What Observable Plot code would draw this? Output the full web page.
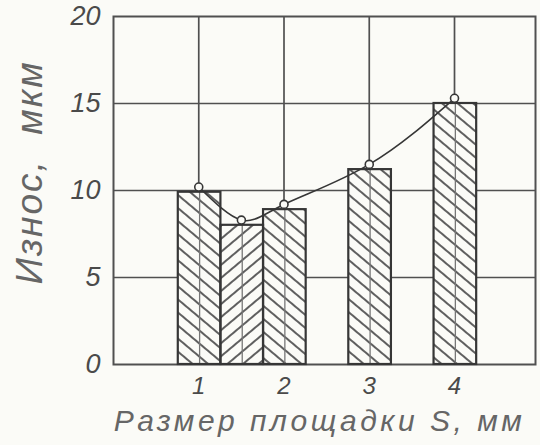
<!DOCTYPE html>
<html>
<head>
<meta charset="utf-8">
<script src="https://cdn.jsdelivr.net/npm/d3@7"></script>
<script src="https://cdn.jsdelivr.net/npm/@observablehq/plot@0.6"></script>
<style>
  html, body { margin: 0; padding: 0; background: #fbfbf7; }
  svg { display: block; overflow: visible; }
</style>
</head>
<body>
<script>
// ---- data ----
const sizes = [1, 1.5, 2, 3, 4];                 // размер площадки S, мм
const barWear = [9.9, 8.0, 8.9, 11.2, 15.0];     // высота столбцов, мкм
const pointWear = [10.2, 8.3, 9.2, 11.5, 15.3];  // точки кривой, мкм
const xTicks = [1, 2, 3, 4];
const yTicks = [0, 5, 10, 15, 20];
const yGrid = [5, 10, 15];
const xLabel = "Размер площадки S, мм";
const yLabel = "Износ,  мкм";

const bars = sizes.map((s, i) => ({s, v: barWear[i]}));
const pts = sizes.map((s, i) => ({s, v: pointWear[i]}));
const isMain = d => Number.isInteger(d.s);

const ink = "#363636";
const bg = "#fbfbf7";
const x1 = d => d.s - 0.24, x2 = d => d.s + 0.26;

const svg = Plot.plot({
  width: 540,
  height: 445,
  marginLeft: 113,
  marginRight: 5,
  marginTop: 16,
  marginBottom: 81,
  style: {background: bg, fontFamily: "Liberation Sans", fontStyle: "italic", fontSize: "23px", color: "#4a4a4a"},
  x: {domain: [0, 4.95], ticks: xTicks, tickSize: 0, tickPadding: 12, tickFormat: d => String(d), label: null},
  y: {domain: [0, 20], ticks: yTicks, tickSize: 0, tickPadding: 13, label: null},
  marks: [
    Plot.ruleY(yGrid, {stroke: "#505050", strokeWidth: 1.7}),
    Plot.ruleX(xTicks, {stroke: "#505050", strokeWidth: 1.7}),
    Plot.frame({stroke: "#505050", strokeWidth: 2}),
    Plot.rect(bars, {x1, x2, y1: d => 0, y2: "v", fill: bg}),
    Plot.rect(bars.filter(isMain), {x1, x2, y1: d => 0, y2: "v", fill: "url(#hatchBack)"}),
    Plot.rect(bars.filter(d => !isMain(d)), {x1, x2, y1: d => 0, y2: "v", fill: "url(#hatchFwd)"}),
    Plot.ruleX(bars, {x: d => d.s + 0.01, y1: d => 0, y2: "v", stroke: "#777", strokeWidth: 1.3}),
    Plot.rect(bars, {x1, x2, y1: d => 0, y2: "v", fill: "none", stroke: ink, strokeWidth: 2.2}),
    Plot.line(pts, {x: "s", y: "v", curve: "natural", stroke: ink, strokeWidth: 1.6}),
    Plot.dot(pts, {x: "s", y: "v", r: 4, fill: bg, stroke: ink, strokeWidth: 1.6}),
    Plot.text([yLabel], {text: d => d, frameAnchor: "left", textAnchor: "middle", lineAnchor: "middle",
      rotate: -90, dx: -83, dy: -18,
      fontSize: 37, fontStyle: "italic", fontFamily: "Liberation Sans", fill: "#666"}),
    Plot.text([xLabel], {text: d => d, frameAnchor: "bottom", textAnchor: "middle", lineAnchor: "middle",
      dx: -5, dy: 57,
      fontSize: 30, fontStyle: "italic", fontFamily: "Liberation Sans", fill: "#666"})
  ]
});

// hatch patterns
const defs = d3.select(svg).insert("defs", ":first-child");
function hatch(id, angle) {
  const p = defs.append("pattern")
    .attr("id", id)
    .attr("patternUnits", "userSpaceOnUse")
    .attr("width", 10).attr("height", 10)
    .attr("patternTransform", `rotate(${angle})`);
  p.append("rect").attr("width", 10).attr("height", 10).attr("fill", bg);
  p.append("line").attr("x1", 5).attr("x2", 5).attr("y1", 0).attr("y2", 10)
    .attr("stroke", "#444").attr("stroke-width", 1.7);
}
hatch("hatchBack", -50);
hatch("hatchFwd", 50);

// tick label sizes
d3.select(svg).selectAll('g[aria-label^="x-axis"] text').attr("font-size", 24);
d3.select(svg).selectAll('g[aria-label^="y-axis"] text').attr("font-size", 27);
// letter spacing for the axis titles
d3.select(svg).selectAll('g[aria-label="text"] text').each(function() {
  const t = this.textContent;
  if (t === xLabel) this.setAttribute("letter-spacing", "3.5");
  if (t === yLabel) this.setAttribute("letter-spacing", "2");
});

document.body.appendChild(svg);
</script>
</body>
</html>
